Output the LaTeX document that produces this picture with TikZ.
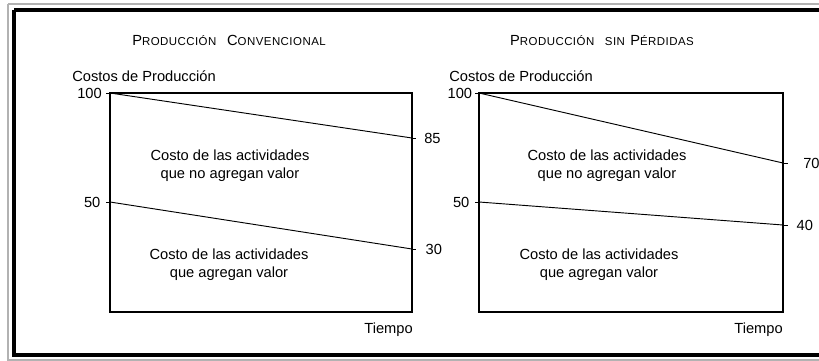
\documentclass[tikz,border=0pt]{standalone}
\usepackage{fontspec}
\setmainfont{Liberation Sans}
\newfontfamily\titlefont[LetterSpace=4]{Liberation Sans}
\usepackage{tikz}

% small caps by hand: big initial, smaller rest
\newcommand{\capbig}[1]{{\fontsize{11}{13}\selectfont #1}}
\newcommand{\capsmall}[1]{{\fontsize{8.6}{10}\selectfont #1}}

\tikzset{
  lbl/.style={inner sep=0pt, font=\fontsize{11}{13}\selectfont},
  mid/.style={lbl, align=center, anchor=base},
  ttl/.style={inner sep=0pt, anchor=base, font=\titlefont},
  axis/.style={line width=0.95pt},
  cost/.style={line width=0.7pt}
}

\begin{document}
\begin{tikzpicture}[x=0.75pt,y=0.75pt,yscale=-1,xscale=1]
\useasboundingbox (0,0) rectangle (819,361);

%Shape: frame
\draw [gray!60, line width=1.1pt] (8,4) -- (830,4) (8,4) -- (8,360) -- (830,360) ;
\draw [line width=3pt] (14,10) -- (830,10) (14,10) -- (14,355) -- (830,355) ;

%%% left chart
\coordinate (lTL) at (110,93);
\coordinate (lTR) at (412,93);
\coordinate (lBL) at (110,312);
\coordinate (lBR) at (412,312);
\coordinate (lA) at (110,202);
\coordinate (lB) at (412,138);
\coordinate (lC) at (412,249);
%Shape: Rectangle
\draw [axis] (lTL) -- (lTR) -- (lBR) -- (lBL) -- cycle ;
%Straight Lines
\draw [cost] (lTL) -- (lB) ;
\draw [cost] (lA) -- (lC) ;
% ticks
\draw [cost] (lTL) -- ++(-4,0) (lA) -- ++(-4,0) (lB) -- ++(4,0) (lC) -- ++(4,0) ;

% Text Node
\node [ttl] (tituloL) at (229,45) {\capbig{P}\capsmall{RODUCCIÓN}\hspace{8pt}\capbig{C}\capsmall{ONVENCIONAL}};
% Text Node
\node [lbl, anchor=base west] (ejeL) at (72,81) {Costos de Producción};
\node [lbl, anchor=east] (cienL) at ([xshift=-6]lTL) {100};
\node [lbl, anchor=east] (cincuentaL) at ([xshift=-7]lA) {50};
\node [lbl, anchor=west] (ochentaycinco) at ([xshift=9]lB) {85};
\node [lbl, anchor=west] (treinta) at ([xshift=10]lC) {30};
% Text Node
\node [mid] (noValorL) at (230,178) {Costo de las actividades\\que no agregan valor};
\node [mid] (valorL) at (229,277) {Costo de las actividades\\que agregan valor};
\node [lbl, anchor=base east] (tiempoL) at (413,333) {Tiempo};

%%% right chart
\coordinate (rTL) at (479,93);
\coordinate (rTR) at (783,93);
\coordinate (rBL) at (479,312);
\coordinate (rBR) at (783,312);
\coordinate (rA) at (479,202);
\coordinate (rB) at (783,163);
\coordinate (rC) at (783,225);
%Shape: Rectangle
\draw [axis] (rTL) -- (rTR) -- (rBR) -- (rBL) -- cycle ;
%Straight Lines
\draw [cost] (rTL) -- (rB) ;
\draw [cost] (rA) -- (rC) ;
% ticks
\draw [cost] (rTL) -- ++(-4,0) (rA) -- ++(-4,0) (rB) -- ++(5,0) (rC) -- ++(5,0) ;

% Text Node
\node [ttl] (tituloR) at (602,45) {\capbig{P}\capsmall{RODUCCIÓN}\hspace{8pt}\capsmall{SIN}\hspace{4pt}\capbig{P}\capsmall{ÉRDIDAS}};
% Text Node
\node [lbl, anchor=base west] (ejeR) at (449,81) {Costos de Producción};
\node [lbl, anchor=east] (cienR) at ([xshift=-5]rTL) {100};
\node [lbl, anchor=east] (cincuentaR) at ([xshift=-7]rA) {50};
\node [lbl, anchor=west] (setenta) at ([xshift=15]rB) {70};
\node [lbl, anchor=west] (cuarenta) at ([xshift=10]rC) {40};
% Text Node
\node [mid] (noValorR) at (607,178) {Costo de las actividades\\que no agregan valor};
\node [mid] (valorR) at (599,277) {Costo de las actividades\\que agregan valor};
\node [lbl, anchor=base east] (tiempoR) at (783,333) {Tiempo};

\end{tikzpicture}
\end{document}
